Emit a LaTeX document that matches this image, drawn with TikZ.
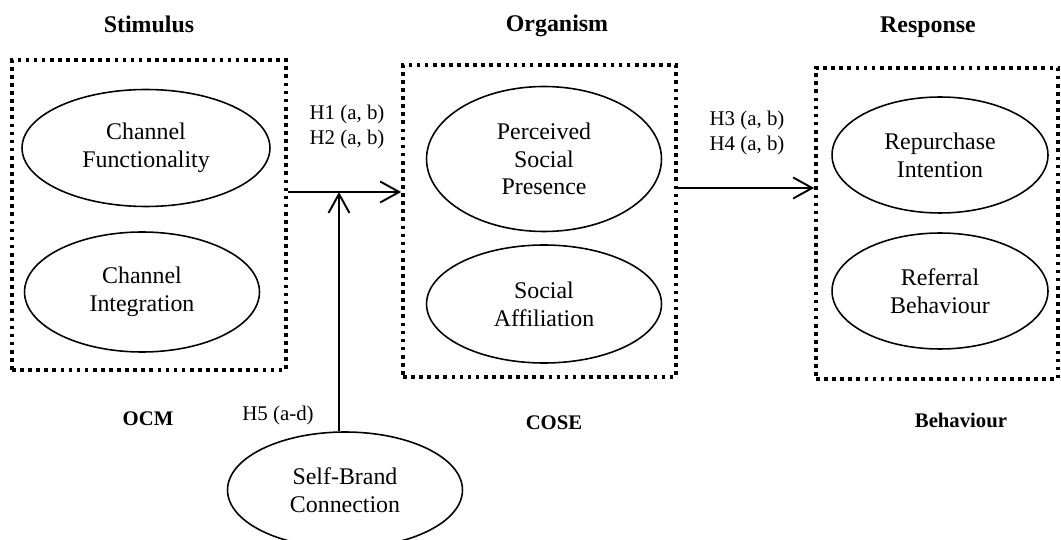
\documentclass[tikz,border=0pt]{standalone}
\usepackage{fontspec}
\setmainfont{Liberation Serif}
\usetikzlibrary{shapes.geometric,arrows.meta}

\begin{document}
\begin{tikzpicture}[x=0.02cm, y=-0.02cm,
	construct/.style={ellipse, draw, line width=0.9pt, inner sep=0pt, align=center,
		font=\fontsize{13.6}{15.8}\selectfont},
	groupbox/.style={rectangle, draw, line width=2.1pt, dash pattern=on 2.1pt off 2.5pt, inner sep=0pt},
	heading/.style={anchor=base, font=\fontsize{13.6}{16}\selectfont\bfseries},
	caption/.style={anchor=base, font=\fontsize{11.8}{14}\selectfont\bfseries},
	hyp/.style={align=center, font=\fontsize{11.9}{13.7}\selectfont},
	link/.style={line width=1.1pt, -{Straight Barb[length=3.8mm, width=4.2mm, line width=1.1pt]}}]
	
	\clip (0,0) rectangle (1061,540);
	
	%Headings
	\node (Stimulus) at (149,33) [heading]{Stimulus};
	\node (Organism) at (557,32) [heading]{Organism};
	\node (Response) at (928,33) [heading]{Response};
	
	%Boxes
	\node (OCMBox) at (149,215) [groupbox, minimum width=5.48cm, minimum height=6.2cm]{};
	\node (COSEBox) at (539.5,221) [groupbox, minimum width=5.46cm, minimum height=6.24cm]{};
	\node (RespBox) at (937,223.5) [groupbox, minimum width=4.84cm, minimum height=6.22cm]{};
	
	%Constructs
	\node (ChanFunc) at (146,148) [construct, minimum width=4.96cm, minimum height=2.34cm]{Channel\\Functionality};
	\node (ChanInteg) at (142,292) [construct, minimum width=4.7cm, minimum height=2.4cm]{Channel\\Integration};
	\node (SocPresence) at (544,159) [construct, minimum width=4.7cm, minimum height=2.9cm]{Perceived\\Social\\Presence};
	\node (SocAffil) at (544,304) [construct, minimum width=4.7cm, minimum height=2.36cm]{Social\\Affiliation};
	\node (Repurchase) at (940,155) [construct, minimum width=4.32cm, minimum height=2.32cm]{Repurchase\\Intention};
	\node (Referral) at (940,291) [construct, minimum width=4.32cm, minimum height=2.32cm]{Referral\\Behaviour};
	\node (SelfBrand) at (345,490) [construct, minimum width=4.7cm, minimum height=2.32cm]{Self-Brand\\Connection};
	
	%Captions
	\node (OCM) at (148,425) [caption]{OCM};
	\node (COSE) at (554,429) [caption]{COSE};
	\node (Behaviour) at (961,427) [caption]{Behaviour};
	
	%Hypotheses
	\node (HypOneTwo) at (347,127) [hyp]{H1 (a, b)\\H2 (a, b)};
	\node (HypThreeFour) at (747,133) [hyp]{H3 (a, b)\\H4 (a, b)};
	\node (HypFive) at (278,415) [hyp]{H5 (a-d)};
	
	%Links
	\coordinate (Junction) at (339,192);
	\coordinate (ArrowLevel) at (0,188);
	\draw[link] (OCMBox.east |- Junction) -- (COSEBox.west |- Junction);
	\draw[link] (Junction |- SelfBrand.north) -- (Junction);
	\draw[link] (COSEBox.east |- ArrowLevel) -- (RespBox.west |- ArrowLevel);
	
\end{tikzpicture}
\end{document}
